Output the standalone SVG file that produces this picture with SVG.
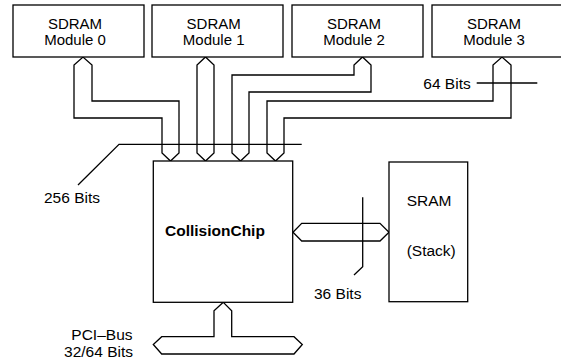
<svg xmlns="http://www.w3.org/2000/svg" width="561" height="363" viewBox="0 0 561 363">
<style>
.box{fill:#fff;stroke:#000;stroke-width:1.3}
.ln{fill:none;stroke:#000;stroke-width:1.3;stroke-linejoin:miter}
text{font-family:"Liberation Sans",Arial,sans-serif;font-size:15.5px;fill:#000}
.m{font-size:15px}
.c{text-anchor:middle}
.r{text-anchor:end}
</style>
<rect width="561" height="363" fill="#fff"/>
<g id="connectors">
<path class="ln" d="M74,118 V65 L83,57 L92,65 V101 H179 V153 L170.5,161 L162,153 V118 Z"/>
<path class="ln" d="M197,153 V65 L205.5,57 L214,65 V153 L205.5,161 Z"/>
<path class="ln" d="M232,153 V75 H354 V65 L362.5,57 L371,65 V92 H249 V153 L240.5,161 Z"/>
<path class="ln" d="M267,153 V101 H493 V65 L502,57 L511,65 V118 H284 V153 L275.5,161 Z"/>
<path class="ln" d="M293,232.3 L301.7,223.3 H380 L389,232.3 L380,241 H301.7 Z"/>
<path class="ln" d="M223.3,302.3 L214,310.7 V336.7 H161.7 L153.3,344.5 L161.7,354 H294 L302.3,344.5 L294,336.7 H231.7 V310.7 Z"/>
<path class="ln" d="M78,185 L119,144.3 H301.7"/>
<path class="ln" d="M476.7,83 H537.3"/>
<path class="ln" d="M362.7,197.3 V266.7 L354,275"/>
</g>
<g id="m0"><rect class="box" x="13" y="5" width="131" height="52"/><text class="c m" x="75" y="29">SDRAM</text><text class="c m" x="75" y="44.5">Module 0</text></g>
<g id="m1"><rect class="box" x="152" y="5" width="131" height="52"/><text class="c m" x="213.7" y="29">SDRAM</text><text class="c m" x="213.7" y="44.5">Module 1</text></g>
<g id="m2"><rect class="box" x="292" y="5" width="131" height="52"/><text class="c m" x="354" y="29">SDRAM</text><text class="c m" x="354" y="44.5">Module 2</text></g>
<g id="m3"><rect class="box" x="432" y="5" width="140" height="52"/><text class="c m" x="494" y="29">SDRAM</text><text class="c m" x="494" y="44.5">Module 3</text></g>
<g id="chip"><rect class="box" x="153.3" y="161" width="139.4" height="141.3"/><text x="165" y="235.7" font-weight="bold">CollisionChip</text></g>
<g id="sram"><rect class="box" x="389" y="162" width="78.7" height="139.7"/><text x="406.7" y="206">SRAM</text><text x="406.7" y="255.5">(Stack)</text></g>
<g id="labels">
<text x="44" y="203">256 Bits</text>
<text x="423.3" y="88.5">64 Bits</text>
<text x="314" y="299">36 Bits</text>
<text class="r" x="132.5" y="340">PCI–Bus</text>
<text class="r" x="133" y="356.5">32/64 Bits</text>
</g>
</svg>
